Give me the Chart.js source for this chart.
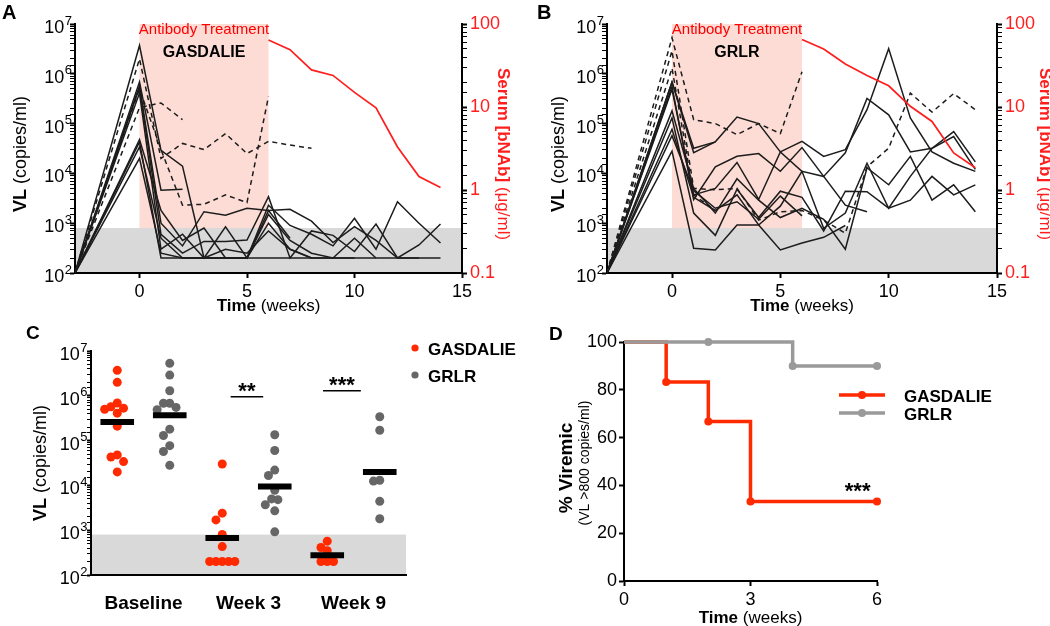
<!DOCTYPE html>
<html><head><meta charset="utf-8">
<script src="https://cdn.jsdelivr.net/npm/chart.js@4.4.1/dist/chart.umd.min.js"></script>
<style>
html,body{margin:0;padding:0;background:#fff;}
#wrap{position:relative;width:1050px;height:626px;overflow:hidden;background:#fff;}
canvas{position:absolute;}
</style></head><body>
<div id="wrap">
<canvas id="cA" width="525" height="315" style="left:0;top:0;width:525px;height:315px"></canvas>
<canvas id="cB" width="525" height="315" style="left:525px;top:0;width:525px;height:315px"></canvas>
<canvas id="cC" width="525" height="311" style="left:0;top:315px;width:525px;height:311px"></canvas>
<canvas id="cD" width="525" height="311" style="left:525px;top:315px;width:525px;height:311px"></canvas>
</div>
<script>
// ================= DATA =================
// Panels A/B: viral load (copies/ml) per animal at each week; missing = no further samples
const weeks = [-3, 0, 1, 2, 3, 4, 5, 6, 7, 8, 9, 10, 11, 12, 13, 14];
const gasdalieSolid = [
  [100, 3.7e6, 2.9e4, 1.4e4, 200, 200, 200, 200, 200, 200, 200, 200, 200, 200, 200, 200],
  [100, 6.9e5, 4.6e3, 4.8e3],
  [100, 5.7e5, 1.0e3, 350, 1.7e3, 1.45e3, 2.0e3, 1.8e3, 1.9e3, 1.1e3, 410, 850, 450, 200, 200],
  [100, 5.3e5, 600, 250, 430, 430, 460, 3.4e3, 200, 700, 570, 270, 960, 200, 365, 960],
  [100, 4.1e5, 300, 600, 200, 850, 200, 2.3e3, 900, 600, 350, 1.25e3, 300, 2.7e3, 1.0e3, 400],
  [100, 4.8e4, 1.8e3, 450, 800, 200, 200, 1.5e3, 450, 250, 200, 500, 200],
  [100, 4.3e4, 200, 200, 200, 200, 200, 1.0e3, 300, 200, 200, 200],
  [100, 3.4e4, 500, 200, 200, 300, 250, 700, 300, 200],
  [100, 2.0e4, 250, 200, 200, 200, 200, 1.8e3, 500]
];
const gasdalieDashed = [
  [100, 2.1e5, 2.6e5, 1.2e5],
  [100, 2.0e6, 2.0e4, 4.0e4, 3.0e4, 6.3e4, 2.5e4, 4.4e4, 3.7e4, 3.2e4],
  [100, 5.0e5, 3.0e4, 2.3e3, 2.4e3, 3.7e3, 2.6e3, 3.5e5]
];
const grlrSolid = [
  [100, 6.8e5, 2.6e4, 4.3e4],
  [100, 6.8e5, 3.2e4, 4.3e4, 1.35e5, 1.0e5, 2.7e4, 4.4e4, 2.2e4, 3.0e4, 1.9e5, 3.2e6, 1.3e5, 2.7e4, 1.6e4, 1.1e4],
  [100, 5.5e5, 3.0e3, 1.35e4, 2.2e4, 2.5e4, 1.1e4, 3.3e4, 8.7e3, 2.6e4, 3.2e5, 1.5e5, 2.7e4, 3.2e4, 6.9e4, 1.7e4],
  [100, 4.9e5, 3.7e3, 5.0e3, 1.66e4, 3.0e3, 2.7e4, 1.1e4, 790, 1.6e3, 1.6e4, 2.0e3, 8.7e3, 3.2e4, 5.5e4, 1.2e4],
  [100, 1.8e5, 5.0e3, 1.6e3, 7.8e3, 2.9e3, 1.3e3, 2.0e3, 1.2e3, 300, 1.3e4, 5.9e3, 2.2e4, 2.9e3, 5.9e3, 1.7e3],
  [100, 1.3e5, 1.6e3, 570, 4.8e3, 1.3e3, 4.4e3, 3.3e3, 700, 4.4e3, 4.3e3, 2.0e3, 2.9e3, 8.7e3, 3.7e3, 5.9e3],
  [100, 7.7e4, 3.3e3, 1.8e3, 3.7e3, 920, 2.2e3, 1.1e4, 8.7e3, 2.3e3, 1.7e3],
  [100, 5.7e4, 4.5e3, 2.0e3, 2.7e3, 1.2e3, 3.5e3, 1.4e3],
  [100, 2.8e4, 315, 290, 920, 920, 290, 400, 520, 900]
];
const grlrDashed = [
  [100, 5.3e6, 1.2e5, 1.0e5, 6.0e4, 1.0e5, 6.3e4, 1.1e6],
  [100, 2.9e6, 5.0e3, 4.7e3, 5.0e3, 1.15e3, 1.7e3, 1.8e3, 1.15e3, 630, 1.35e4, 3.2e4, 4.1e5, 1.7e5, 4.0e5, 1.9e5],
  [100, 1.3e6, 3.7e3, 1.8e3]
];
// serum antibody (ug/ml), right axis
const serumWeeks = [6, 7, 8, 9, 10, 11, 12, 13, 14];
const serumGasdalie = [64, 49, 28, 24, 15, 9.8, 3.3, 1.45, 1.07];
const serumGrlr = [65, 50, 33, 24, 18, 10.2, 6.7, 2.8, 1.85];
const vlTimeTicks = [0, 5, 10, 15];
const detectionLimit = 800;
const treatmentWeeks = [0, 6];

// Panel C
const categories = ['Baseline', 'Week 3', 'Week 9'];
const gasdalieBaseline = [3.7e6, 2.0e6, 6.9e5, 5.7e5, 5.3e5, 5.0e5, 4.1e5, 2.1e5, 4.8e4, 4.3e4, 3.4e4, 2.0e4];
const grlrBaseline = [5.3e6, 2.9e6, 1.3e6, 6.8e5, 6.8e5, 5.5e5, 4.9e5, 1.8e5, 1.3e5, 7.7e4, 5.7e4, 2.8e4];
const gasdalieWeek3 = [3.0e4, 2.4e3, 1.7e3, 800, 430, 200, 200, 200, 200, 200];
const grlrWeek3 = [1.35e5, 6.0e4, 2.2e4, 1.66e4, 7.8e3, 5.0e3, 4.8e3, 3.7e3, 2.7e3, 920];
const gasdalieWeek9 = [570, 410, 350, 200, 200, 200];
const grlrWeek9 = [3.4e5, 1.7e5, 1.3e4, 1.25e4, 4.4e3, 1.8e3];
const gasdalieGeoMean = [2.6e5, 670, 276];
const grlrGeoMean = [3.7e5, 9.5e3, 2.0e4];

// Panel D (Kaplan-Meier, % viremic)
const kmGasdalieWeeks = [0, 1, 2, 3, 6];
const kmGasdalieViremic = [100, 83.3, 66.7, 33.3, 33.3];
const kmGrlrWeeks = [0, 2, 4, 6];
const kmGrlrViremic = [100, 100, 90, 90];
const kmTimeTicks = [0, 3, 6];

// ================= STYLE =================
const FONT = "'Liberation Sans', Arial, Helvetica, sans-serif";
Chart.defaults.font.family = FONT;
Chart.defaults.color = '#000';
const RED_SERUM = '#ff1e1e';
const RED_DOT = '#ff2a00';
const GRAY_DOT = '#666666';
const GRAY_KM = '#9a9a9a';
const BAND_GRAY = '#d9d9d9';
const BAND_PINK = '#fcdcd5';
const LINE_BLACK = '#1c1c1c';

function decade(v){ const e = Math.log10(v); const r = Math.round(e); return Math.abs(e - r) < 1e-6 ? r : null; }
function plainLabel(v){ const r = decade(v); if (r === null) return ''; return r < 0 ? Math.pow(10, r).toFixed(-r) : String(Math.pow(10, r)); }
function noLabel(){ return ''; }
function toXY(xs, ys){ const out = []; ys.forEach((y, i) => { if (y != null) out.push({x: xs[i], y}); }); return out; }

function richText(ctx, parts, x, y, rot, baseline){
  ctx.save();
  ctx.translate(x, y);
  ctx.rotate(rot || 0);
  ctx.textBaseline = baseline || 'middle';
  ctx.textAlign = 'left';
  let total = 0;
  const w = parts.map(p => { ctx.font = p[1] + ' ' + p[2] + 'px ' + FONT; const m = ctx.measureText(p[0]).width; total += m; return m; });
  let cx = -total / 2;
  parts.forEach((p, i) => { ctx.font = p[1] + ' ' + p[2] + 'px ' + FONT; ctx.fillStyle = p[3]; ctx.fillText(p[0], cx, 0); cx += w[i]; });
  ctx.restore();
}
function text(ctx, s, x, y, font, color, align, baseline){
  ctx.save(); ctx.font = font; ctx.fillStyle = color; ctx.textAlign = align || 'left'; ctx.textBaseline = baseline || 'alphabetic';
  ctx.fillText(s, x, y); ctx.restore();
}
// "10" with a raised exponent at every decade of a log scale
function drawPowerLabels(ctx, s, rightX, size){
  const e0 = Math.round(Math.log10(s.min)), e1 = Math.round(Math.log10(s.max));
  for (let e = e0; e <= e1; e++){
    const py = s.getPixelForValue(Math.pow(10, e));
    ctx.save();
    ctx.fillStyle = '#000'; ctx.textBaseline = 'alphabetic';
    ctx.font = Math.round(size * 0.7) + 'px ' + FONT;
    const ew = ctx.measureText(String(e)).width;
    ctx.textAlign = 'left';
    ctx.fillText(String(e), rightX - ew, py + 0.5);
    ctx.font = size + 'px ' + FONT; ctx.textAlign = 'right';
    ctx.fillText('10', rightX - ew - 0.5, py + 9);
    ctx.restore();
  }
}

function logAxis(o){
  return {
    type: 'logarithmic', position: o.position, min: o.min, max: o.max,
    ticks: { autoSkip: false, maxRotation: 0, callback: o.label, font: {size: o.size || 18}, color: o.color || '#000', padding: o.padding == null ? 1 : o.padding },
    grid: { display: true, drawOnChartArea: false, drawTicks: true, tickLength: o.tickLength || 5,
            tickWidth: c => (c.tick && decade(c.tick.value) !== null) ? 2 : 1, tickColor: '#000' },
    border: { display: true, color: '#000', width: 2 },
    afterFit: s => { s.width = o.width; s.paddingTop = 0; s.paddingBottom = 0; }
  };
}

// ================= PANELS A & B =================
function vlPanel(id, cfg){
  const datasets = [];
  datasets.push({ data: toXY(serumWeeks, cfg.serum), yAxisID: 'y1', borderColor: RED_SERUM, borderWidth: 1.7, pointRadius: 0, order: 0 });
  cfg.solid.forEach(v => datasets.push({ data: toXY(weeks, v), yAxisID: 'y', borderColor: LINE_BLACK, borderWidth: 1.5, pointRadius: 0, order: 1 }));
  cfg.dashed.forEach(v => datasets.push({ data: toXY(weeks, v), yAxisID: 'y', borderColor: LINE_BLACK, borderWidth: 1.5, borderDash: [5, 4], pointRadius: 0, order: 1 }));
  const decor = {
    id: 'decor' + id,
    beforeDraw(chart){
      const {ctx, chartArea: a, scales: {x, y}} = chart;
      ctx.save();
      ctx.fillStyle = '#fff'; ctx.fillRect(0, 0, chart.width, chart.height);
      const yL = y.getPixelForValue(detectionLimit);
      ctx.fillStyle = BAND_GRAY; ctx.fillRect(a.left, yL, a.right - a.left, a.bottom - yL);
      const x0 = x.getPixelForValue(treatmentWeeks[0]), x1 = x.getPixelForValue(treatmentWeeks[1]);
      ctx.fillStyle = BAND_PINK; ctx.fillRect(x0, a.top, x1 - x0, yL - a.top);
      ctx.restore();
    },
    afterDraw(chart){
      const {ctx, chartArea: a, scales: {x, y}} = chart;
      drawPowerLabels(ctx, y, a.left - 3, 18);
      const xc = x.getPixelForValue((treatmentWeeks[0] + treatmentWeeks[1]) / 2);
      text(ctx, cfg.letter, cfg.letterX, 19, 'bold 20px ' + FONT, '#000');
      text(ctx, 'Antibody Treatment', xc, 34, '15px ' + FONT, '#ff0000', 'center');
      text(ctx, cfg.group, xc, 57, 'bold 16px ' + FONT, '#000', 'center');
      richText(ctx, [['VL', 'bold', 18, '#000'], [' (copies/ml)', 'normal', 18, '#000']], cfg.leftTitleX, 154, -Math.PI / 2);
      richText(ctx, [['Serum [bNAb]', 'bold', 17, RED_SERUM], [' (\u03BCg/ml)', 'normal', 17, RED_SERUM]], cfg.rightTitleX, 154, Math.PI / 2);
      richText(ctx, [['Time', 'bold', 17, '#000'], [' (weeks)', 'normal', 17, '#000']], (a.left + a.right) / 2, 311, 0, 'alphabetic');
    }
  };
  new Chart(document.getElementById(id), {
    type: 'line',
    data: { datasets },
    options: {
      responsive: false, animation: false, devicePixelRatio: 1,
      layout: { padding: { top: 24, left: 0, right: 0, bottom: 0 } },
      plugins: { legend: { display: false }, tooltip: { enabled: false } },
      elements: { line: { tension: 0 } },
      scales: {
        x: { type: 'linear', min: -3, max: 15,
             afterBuildTicks: s => { s.ticks = vlTimeTicks.map(v => ({value: v})); },
             ticks: { font: {size: 18}, padding: 3, autoSkip: false, maxRotation: 0, callback: v => String(v) },
             grid: { display: true, drawOnChartArea: false, tickLength: 5, tickWidth: 2, tickColor: '#000' },
             border: { display: true, color: '#000', width: 2 },
             afterFit: s => { s.height = 42; s.paddingLeft = 0; s.paddingRight = 0; } },
        y: logAxis({ position: 'left', min: 100, max: 1e7, label: noLabel, width: cfg.leftW, padding: 1 }),
        y1: logAxis({ position: 'right', min: 0.1, max: 100, label: plainLabel, width: cfg.rightW, color: RED_SERUM, padding: 3 })
      }
    },
    plugins: [decor]
  });
}

vlPanel('cA', { solid: gasdalieSolid, dashed: gasdalieDashed, serum: serumGasdalie, group: 'GASDALIE',
  letter: 'A', letterX: 2, leftW: 75, rightW: 63, leftTitleX: 21, rightTitleX: 503 });
vlPanel('cB', { solid: grlrSolid, dashed: grlrDashed, serum: serumGrlr, group: 'GRLR',
  letter: 'B', letterX: 12, leftW: 82, rightW: 53, leftTitleX: 34, rightTitleX: 520 });

// ================= PANEL C =================
function swarm(values, center){
  const placed = [];
  const step = 0.06, minDx = 0.115, minDy = 0.2;
  [...values].sort((a, b) => b - a).forEach(v => {
    const ly = Math.log10(v);
    for (let k = 0; k < 40; k++){
      const off = k === 0 ? 0 : (k % 2 ? -1 : 1) * Math.ceil(k / 2) * step;
      const ok = placed.every(q => { const dx = (q.off - off) / minDx, dy = (q.ly - ly) / minDy; return dx * dx + dy * dy >= 1; });
      if (ok){ placed.push({off, ly, v}); break; }
    }
  });
  return placed.map(q => ({x: center + q.off, y: q.v}));
}
(function(){
  const redSets = [gasdalieBaseline, gasdalieWeek3, gasdalieWeek9];
  const graySets = [grlrBaseline, grlrWeek3, grlrWeek9];
  const datasets = [];
  const half = 0.32;
  categories.forEach((c, k) => {
    const rc = 2 * k + 1, gc = 2 * k + 2;
    datasets.push({ data: [{x: rc - half, y: gasdalieGeoMean[k]}, {x: rc + half, y: gasdalieGeoMean[k]}], showLine: true, borderColor: '#000', borderWidth: 6, pointRadius: 0, order: 0 });
    datasets.push({ data: [{x: gc - half, y: grlrGeoMean[k]}, {x: gc + half, y: grlrGeoMean[k]}], showLine: true, borderColor: '#000', borderWidth: 6, pointRadius: 0, order: 0 });
    datasets.push({ data: swarm(redSets[k], rc), backgroundColor: RED_DOT, pointBackgroundColor: RED_DOT, pointBorderWidth: 0, pointRadius: 4.5, order: 1 });
    datasets.push({ data: swarm(graySets[k], gc), backgroundColor: GRAY_DOT, pointBackgroundColor: GRAY_DOT, pointBorderWidth: 0, pointRadius: 4.5, order: 1 });
  });
  const brackets = [ {x0: 3.16, x1: 3.78, y: 9.5e5, s: '**'}, {x0: 4.92, x1: 5.64, y: 1.3e6, s: '***'} ];
  const decor = {
    id: 'decorC',
    beforeDraw(chart){
      const {ctx, chartArea: a, scales: {y}} = chart;
      ctx.save();
      ctx.fillStyle = '#fff'; ctx.fillRect(0, 0, chart.width, chart.height);
      const yL = y.getPixelForValue(detectionLimit);
      ctx.fillStyle = BAND_GRAY; ctx.fillRect(a.left, yL, a.right - a.left, a.bottom - yL);
      ctx.restore();
    },
    afterDraw(chart){
      const {ctx, chartArea: a, scales: {x, y}} = chart;
      drawPowerLabels(ctx, y, a.left - 3.5, 18);
      text(ctx, 'C', 26, 24, 'bold 19px ' + FONT, '#000');
      richText(ctx, [['VL', 'bold', 18, '#000'], [' (copies/ml)', 'normal', 18, '#000']], 41, 148, -Math.PI / 2);
      brackets.forEach(b => {
        const px0 = x.getPixelForValue(b.x0), px1 = x.getPixelForValue(b.x1), py = y.getPixelForValue(b.y);
        ctx.save(); ctx.strokeStyle = '#000'; ctx.lineWidth = 1.5;
        ctx.beginPath(); ctx.moveTo(px0, py); ctx.lineTo(px1, py); ctx.stroke(); ctx.restore();
        text(ctx, b.s, (px0 + px1) / 2, py + 1, 'bold 22px ' + FONT, '#000', 'center');
      });
      // legend
      [[RED_DOT, 'GASDALIE', 33, 40], [GRAY_DOT, 'GRLR', 60, 67]].forEach(l => {
        ctx.save(); ctx.fillStyle = l[0]; ctx.beginPath(); ctx.arc(415, l[2], 3.6, 0, Math.PI * 2); ctx.fill(); ctx.restore();
        text(ctx, l[1], 428, l[3], 'bold 17px ' + FONT, '#000');
      });
    }
  };
  new Chart(document.getElementById('cC'), {
    type: 'scatter',
    data: { datasets },
    options: {
      responsive: false, animation: false, devicePixelRatio: 1,
      layout: { padding: { top: 36, left: 0, right: 119, bottom: 0 } },
      plugins: { legend: { display: false }, tooltip: { enabled: false } },
      scales: {
        x: { type: 'linear', min: 0.5, max: 6.5,
             afterBuildTicks: s => { s.ticks = categories.map((c, k) => ({value: 2 * k + 1.5})); },
             ticks: { font: {size: 19, weight: 'bold'}, padding: 9, autoSkip: false, maxRotation: 0, callback: (v, i) => categories[i] },
             grid: { display: false },
             border: { display: true, color: '#000', width: 2 },
             afterFit: s => { s.height = 51; s.paddingLeft = 0; s.paddingRight = 0; } },
        y: logAxis({ position: 'left', min: 100, max: 1e7, label: noLabel, width: 91, padding: 0, tickLength: 4 })
      }
    },
    plugins: [decor]
  });
})();

// ================= PANEL D =================
(function(){
  const markerRadius = c => c.dataIndex === 0 ? 0 : 4;
  const datasets = [
    { data: toXY(kmGrlrWeeks, kmGrlrViremic), stepped: true, borderColor: GRAY_KM, borderWidth: 3.5, pointRadius: markerRadius, pointBackgroundColor: GRAY_KM, pointBorderWidth: 0, clip: false, order: 0 },
    { data: toXY(kmGasdalieWeeks, kmGasdalieViremic), stepped: true, borderColor: RED_DOT, borderWidth: 3.5, pointRadius: markerRadius, pointBackgroundColor: RED_DOT, pointBorderWidth: 0, clip: false, order: 1 }
  ];
  const decor = {
    id: 'decorD',
    beforeDraw(chart){ const ctx = chart.ctx; ctx.save(); ctx.fillStyle = '#fff'; ctx.fillRect(0, 0, chart.width, chart.height); ctx.restore(); },
    afterDraw(chart){
      const {ctx, chartArea: a, scales: {x, y}} = chart;
      text(ctx, 'D', 24, 25, 'bold 19px ' + FONT, '#000');
      richText(ctx, [['% Viremic', 'bold', 19, '#000']], 42, 153, -Math.PI / 2);
      richText(ctx, [['(VL >800 copies/ml)', 'normal', 14, '#000']], 60, 148, -Math.PI / 2);
      richText(ctx, [['Time', 'bold', 17, '#000'], [' (weeks)', 'normal', 17, '#000']], (a.left + a.right) / 2, 308, 0, 'alphabetic');
      text(ctx, '***', x.getPixelForValue(5.54), y.getPixelForValue(34.8), 'bold 22px ' + FONT, '#000', 'center');
      [[RED_DOT, 'GASDALIE', 80, 87], [GRAY_KM, 'GRLR', 98, 105]].forEach(l => {
        ctx.save(); ctx.strokeStyle = l[0]; ctx.lineWidth = 3.5; ctx.beginPath(); ctx.moveTo(314, l[2]); ctx.lineTo(360, l[2]); ctx.stroke();
        ctx.fillStyle = l[0]; ctx.beginPath(); ctx.arc(337, l[2], 4, 0, Math.PI * 2); ctx.fill(); ctx.restore();
        text(ctx, l[1], 379, l[3], 'bold 17px ' + FONT, '#000');
      });
    }
  };
  new Chart(document.getElementById('cD'), {
    type: 'line',
    data: { datasets },
    options: {
      responsive: false, animation: false, devicePixelRatio: 1,
      layout: { padding: { top: 27, left: 0, right: 173, bottom: 0 } },
      plugins: { legend: { display: false }, tooltip: { enabled: false } },
      scales: {
        x: { type: 'linear', min: 0, max: 6,
             afterBuildTicks: s => { s.ticks = kmTimeTicks.map(v => ({value: v})); },
             ticks: { font: {size: 18}, padding: 3, autoSkip: false, maxRotation: 0, callback: v => String(v) },
             grid: { display: true, drawOnChartArea: false, tickLength: 5, tickWidth: 2, tickColor: '#000' },
             border: { display: true, color: '#000', width: 2 },
             afterFit: s => { s.height = 45; s.paddingLeft = 0; s.paddingRight = 0; } },
        y: { type: 'linear', min: 0, max: 100,
             ticks: { stepSize: 20, font: {size: 18}, padding: 2, autoSkip: false },
             grid: { display: true, drawOnChartArea: false, tickLength: 5, tickWidth: 2, tickColor: '#000' },
             border: { display: true, color: '#000', width: 2 },
             afterFit: s => { s.width = 99; s.paddingTop = 0; s.paddingBottom = 0; } }
      }
    },
    plugins: [decor]
  });
})();
</script>
</body></html>
